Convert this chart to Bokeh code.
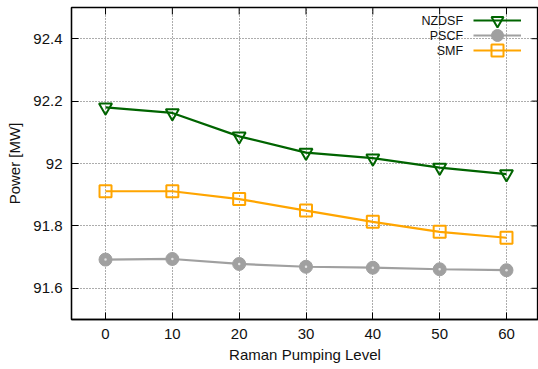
import math
from bokeh.plotting import figure
from bokeh.models import Legend, LegendItem, Range1d, FixedTicker, Label
from bokeh.embed import file_html
from bokeh.resources import INLINE

levels = [0, 10, 20, 30, 40, 50, 60]
nzdsf = [92.180, 92.162, 92.087, 92.035, 92.017, 91.987, 91.966]
pscf = [91.692, 91.694, 91.678, 91.669, 91.666, 91.661, 91.658]
smf = [91.911, 91.911, 91.886, 91.849, 91.813, 91.781, 91.762]
series_names = ["NZDSF", "PSCF", "SMF"]
y_ticks = [91.6, 91.8, 92.0, 92.2, 92.4]
y_tick_labels = {91.6: "91.6", 91.8: "91.8", 92.0: "92", 92.2: "92.2", 92.4: "92.4"}

FONT = "Liberation Sans"
X_MIN, X_MAX = -5.09, 64.79
Y_MIN, Y_MAX = 91.5, 92.5

p = figure(width=538, height=369, output_backend="svg", toolbar_location=None,
           x_range=Range1d(X_MIN, X_MAX), y_range=Range1d(Y_MIN, Y_MAX),
           min_border_left=71, min_border_right=0, min_border_top=7, min_border_bottom=50,
           x_axis_label="Raman Pumping Level", y_axis_label="Power [MW]")

p.outline_line_color = "black"
p.outline_line_width = 1.3
p.background_fill_color = "white"
p.border_fill_color = "white"

for ax in (p.xaxis[0], p.yaxis[0]):
    ax.axis_line_color = "black"
    ax.axis_line_width = 1.3
    ax.major_tick_in = 7
    ax.major_tick_out = 0
    ax.minor_tick_line_color = None
    ax.major_tick_line_color = "black"
    ax.major_label_text_font = FONT
    ax.major_label_text_font_size = "15px"
    ax.major_label_text_color = "#111111"
    ax.axis_label_text_font = FONT
    ax.axis_label_text_font_size = "15px"
    ax.axis_label_text_font_style = "normal"
    ax.axis_label_text_color = "#111111"
    ax.major_label_standoff = 9

p.xaxis[0].ticker = FixedTicker(ticks=levels)
p.xaxis[0].axis_label_standoff = 4
p.yaxis[0].ticker = FixedTicker(ticks=y_ticks)
p.yaxis[0].major_label_overrides = y_tick_labels
p.yaxis[0].axis_label_standoff = 7

p.xgrid.ticker = FixedTicker(ticks=levels)
p.ygrid.ticker = FixedTicker(ticks=y_ticks)
for g in (p.xgrid[0], p.ygrid[0]):
    g.grid_line_color = "#5a5a5a"
    g.grid_line_dash = "1 2"
    g.grid_line_width = 1

# mirrored inward ticks on the top and right edges
p.ray(x=levels, y=[Y_MAX] * len(levels), length=7, length_units="screen",
      angle=-math.pi / 2, line_color="black", line_width=1)
p.ray(x=[X_MAX] * len(y_ticks), y=y_ticks, length=7, length_units="screen",
      angle=math.pi, line_color="black", line_width=1)

colors = ["#006400", "#a0a0a0", "#ffa500"]

l1 = p.line(levels, nzdsf, line_color=colors[0], line_width=2.2)
m1 = p.scatter(levels, nzdsf, marker="inverted_triangle", size=13, line_color=colors[0],
               line_width=2, fill_color=None)
l2 = p.line(levels, pscf, line_color=colors[1], line_width=2.2)
m2 = p.scatter(levels, pscf, marker="circle", size=13, line_color=colors[1],
               line_width=1, fill_color=colors[1])
p.scatter(levels, pscf, marker="circle", size=2.5, line_color=None,
          fill_color="white", fill_alpha=0.7)
l3 = p.line(levels, smf, line_color=colors[2], line_width=2.2)
m3 = p.scatter(levels, smf, marker="square", size=12, line_color=colors[2],
               line_width=2, fill_color=None)

# legend: one sample per series (names drawn as right-aligned labels before them)
series_renderers = [[l1, m1], [l2, m2], [l3, m3]]
legend_offsets = [284, 269, 254]
for name, rends, off in zip(series_names, series_renderers, legend_offsets):
    lg = Legend(items=[LegendItem(label=name, renderers=rends)],
                location=(402, off), padding=0, margin=0, spacing=0,
                glyph_width=48, glyph_height=30, label_width=0, label_height=0,
                label_standoff=0, label_text_color=None,
                label_text_font=FONT, label_text_font_size="2px",
                border_line_color=None, background_fill_alpha=0)
    p.add_layout(lg, "center")

label_y = [92.458, 92.410, 92.362]
for name, yy in zip(series_names, label_y):
    p.add_layout(Label(x=53.5, y=yy, text=name, text_align="right", text_baseline="middle",
                       text_font=FONT, text_font_size="12.5px", text_color="#111111"))

open("out.html", "w").write(file_html(p, INLINE))
